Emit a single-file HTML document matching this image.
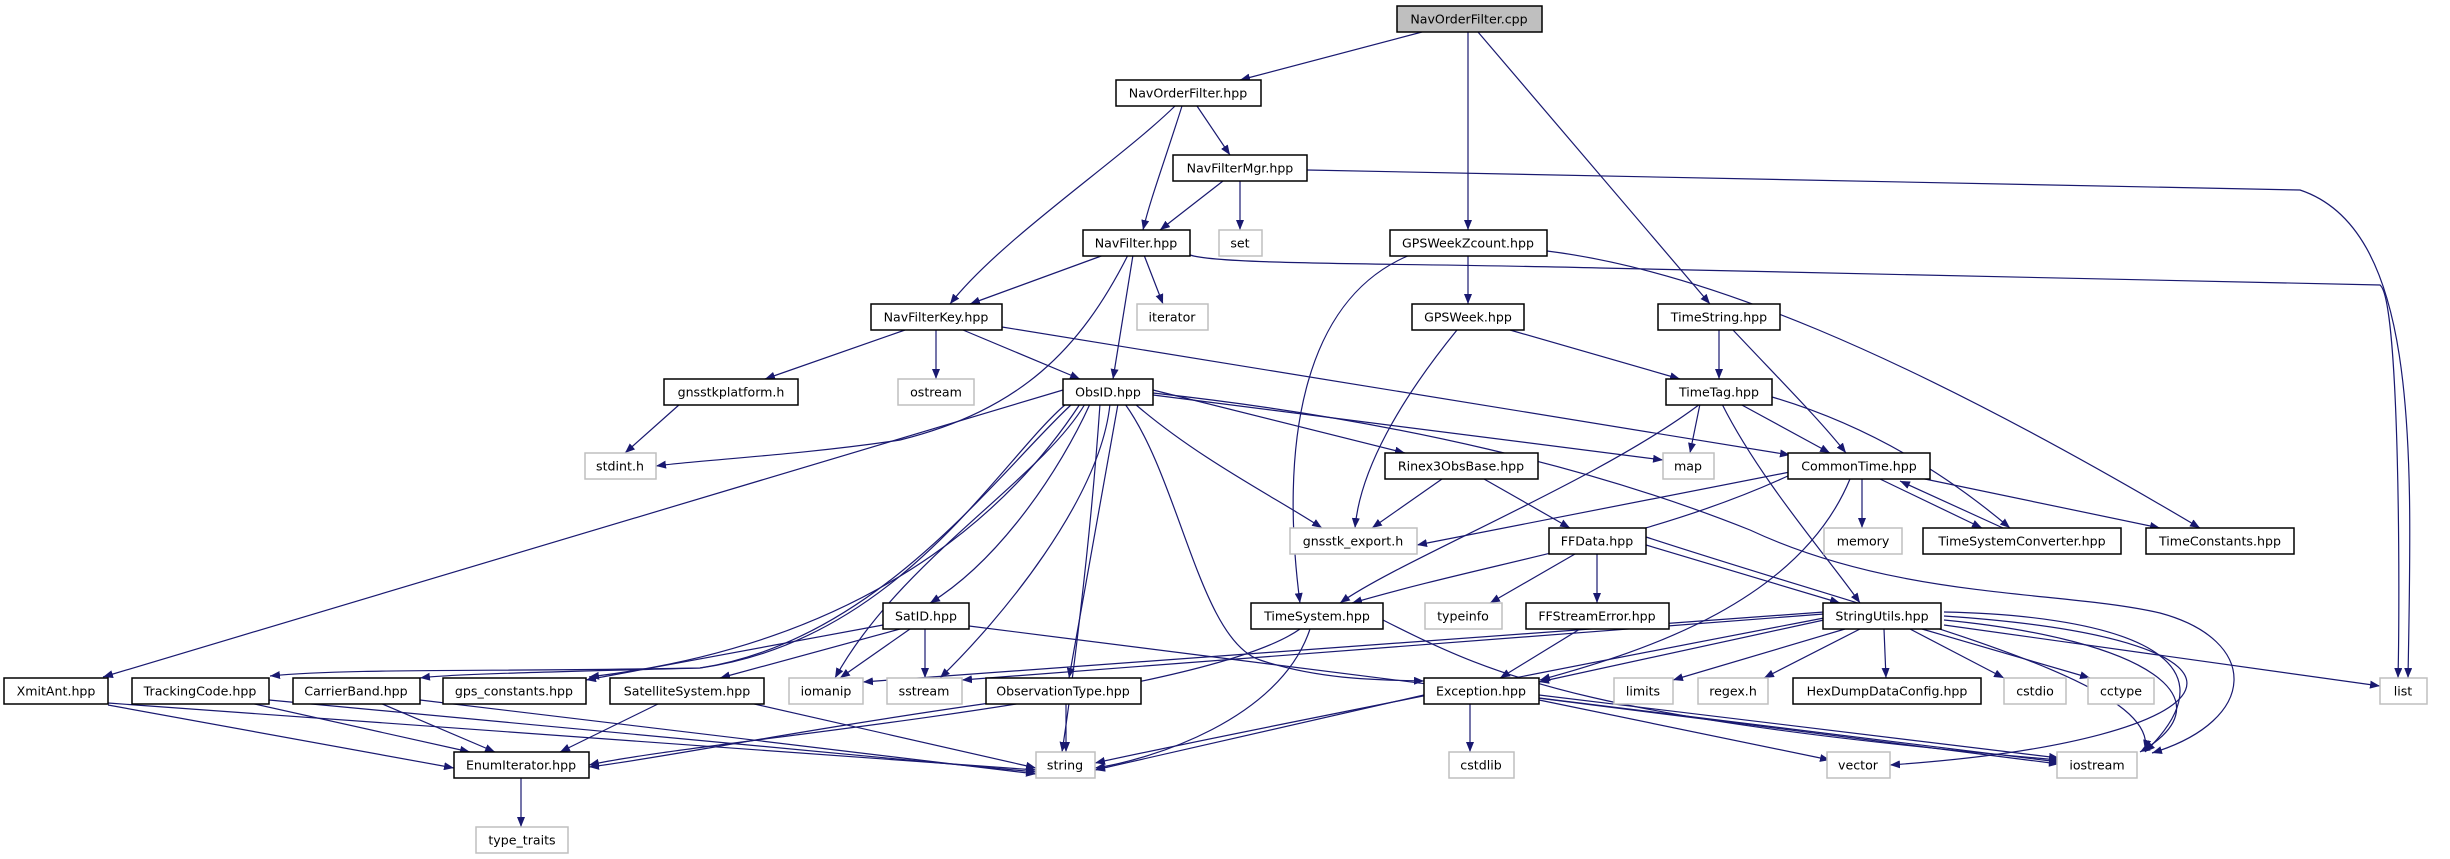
<!DOCTYPE html>
<html><head><meta charset="utf-8"><style>
html,body{margin:0;padding:0;background:#fff;}
svg{display:block;}
text{font-family:"DejaVu Sans","Liberation Sans",sans-serif;font-size:12.6px;fill:#000;text-anchor:middle;}
.b{fill:#fff;stroke:#000;stroke-width:1.5;}
.g{fill:#fff;stroke:#bfbfbf;stroke-width:1.5;}
.e{fill:none;stroke:#191970;stroke-width:1.2;marker-end:url(#a);}
</style></head><body>
<svg width="2450" height="859" viewBox="0 0 2450 859" xmlns="http://www.w3.org/2000/svg">
<defs><marker id="a" viewBox="0 0 10 8" refX="10" refY="4" markerWidth="10" markerHeight="8" markerUnits="userSpaceOnUse" orient="auto"><path d="M0,0 L10,4 L0,8 z" fill="#191970"/></marker></defs>
<g>
<path class="e" d="M1422,32 L1240,80"/>
<path class="e" d="M1468,32 L1468,230"/>
<path class="e" d="M1478,32 L1710,304"/>
<path class="e" d="M1175,106 C1120,160 1000,240 950,304"/>
<path class="e" d="M1182,106 C1165,160 1150,200 1143,230"/>
<path class="e" d="M1197,106 L1230,155"/>
<path class="e" d="M1223,181 L1160,230"/>
<path class="e" d="M1240,181 L1240,230"/>
<path class="e" d="M1307,170 L2300,190 C2420,230 2412,450 2408,678"/>
<path class="e" d="M1104,255 L970,304"/>
<path class="e" d="M1144,255 L1163,304"/>
<path class="e" d="M1133,255 L1113,379"/>
<path class="e" d="M1128,255 C1080,350 1020,410 900,440 C800,455 700,460 656,466"/>
<path class="e" d="M1190,255 C1220,265 1400,263 1600,268 L2380,285 C2400,300 2400,600 2398,678"/>
<path class="e" d="M905,330 L765,379"/>
<path class="e" d="M936,330 L936,379"/>
<path class="e" d="M963,330 L1080,379"/>
<path class="e" d="M1002,327 L1790,455"/>
<path class="e" d="M680,404 L625,453"/>
<path class="e" d="M1063,390 L103,677"/>
<path class="e" d="M1066,404 C1000,460 900,640 700,668 C500,672 350,668 270,676"/>
<path class="e" d="M1072,404 C1000,470 880,640 700,668 C550,672 450,674 420,678"/>
<path class="e" d="M1080,404 C1030,480 900,640 589,677"/>
<path class="e" d="M1090,404 C1060,470 1000,560 930,603"/>
<path class="e" d="M1085,404 C1040,480 900,560 835,678"/>
<path class="e" d="M1110,404 C1100,500 1000,620 940,678"/>
<path class="e" d="M1118,404 L1069,678"/>
<path class="e" d="M1100,404 C1090,550 1070,700 1062,752"/>
<path class="e" d="M1125,404 C1180,480 1200,640 1260,660 C1320,680 1380,680 1424,681"/>
<path class="e" d="M1153,390 L1405,453"/>
<path class="e" d="M1153,395 L1663,460"/>
<path class="e" d="M1135,404 C1200,460 1280,500 1322,528"/>
<path class="e" d="M1153,393 C1400,420 1600,470 1750,530 C1900,600 2060,590 2160,613 C2260,640 2260,720 2152,753"/>
<path class="e" d="M1700,404 L1690,453"/>
<path class="e" d="M1740,404 L1830,453"/>
<path class="e" d="M1700,404 C1600,480 1400,560 1340,603"/>
<path class="e" d="M1722,404 C1760,480 1830,560 1860,603"/>
<path class="e" d="M1772,397 C1850,420 1930,460 2010,528"/>
<path class="e" d="M1719,330 L1719,379"/>
<path class="e" d="M1733,330 C1780,380 1820,420 1846,453"/>
<path class="e" d="M1510,330 L1680,379"/>
<path class="e" d="M1457,330 C1400,400 1360,470 1355,528"/>
<path class="e" d="M1468,255 L1468,304"/>
<path class="e" d="M1410,255 C1300,300 1280,450 1300,603"/>
<path class="e" d="M1547,251 C1700,270 1900,350 2200,528"/>
<path class="e" d="M1790,472 L1417,545"/>
<path class="e" d="M1790,475 C1650,540 1500,560 1352,603"/>
<path class="e" d="M1862,479 L1862,528"/>
<path class="e" d="M1880,479 L1982,528"/>
<path class="e" d="M1920,478 L2160,528"/>
<path class="e" d="M1850,479 C1800,600 1650,650 1540,680"/>
<path class="e" d="M2003,528 L1900,481"/>
<path class="e" d="M1442,479 L1372,528"/>
<path class="e" d="M1484,479 L1570,528"/>
<path class="e" d="M1575,554 L1490,603"/>
<path class="e" d="M1597,554 L1597,603"/>
<path class="e" d="M1646,545 L1840,603"/>
<path class="e" d="M1646,537 C1900,620 2160,680 2145,750"/>
<path class="e" d="M1580,629 L1500,678"/>
<path class="e" d="M1300,629 C1200,700 700,740 589,765"/>
<path class="e" d="M1310,629 C1280,720 1150,760 1095,768"/>
<path class="e" d="M1383,620 C1500,680 1600,720 2059,760"/>
<path class="e" d="M1824,620 L1539,682"/>
<path class="e" d="M1845,629 L1673,680"/>
<path class="e" d="M1860,629 L1764,678"/>
<path class="e" d="M1884,629 L1886,678"/>
<path class="e" d="M1910,629 L2004,678"/>
<path class="e" d="M1922,629 L2090,678"/>
<path class="e" d="M1944,625 L2380,686"/>
<path class="e" d="M1824,612 L863,682"/>
<path class="e" d="M1824,614 L962,680"/>
<path class="e" d="M1824,618 C1500,680 1200,740 1095,763"/>
<path class="e" d="M1944,616 C2300,640 2250,740 1890,765"/>
<path class="e" d="M1944,612 C2100,615 2250,650 2145,752"/>
<path class="e" d="M1944,620 C2150,640 2230,700 2140,752"/>
<path class="e" d="M1470,703 L1470,752"/>
<path class="e" d="M1424,695 L1095,770"/>
<path class="e" d="M1539,700 L1830,760"/>
<path class="e" d="M1539,695 L2059,758"/>
<path class="e" d="M1539,698 L2059,762"/>
<path class="e" d="M900,629 L720,678"/>
<path class="e" d="M910,629 L840,678"/>
<path class="e" d="M925,629 L925,678"/>
<path class="e" d="M969,626 L2059,764"/>
<path class="e" d="M883,625 L586,680"/>
<path class="e" d="M660,703 L560,752"/>
<path class="e" d="M750,703 L1036,768"/>
<path class="e" d="M990,703 C800,730 650,760 589,767"/>
<path class="e" d="M1066,703 L1066,752"/>
<path class="e" d="M108,705 L454,768"/>
<path class="e" d="M108,703 L1036,770"/>
<path class="e" d="M250,703 L470,752"/>
<path class="e" d="M269,700 L1036,772"/>
<path class="e" d="M380,703 L495,752"/>
<path class="e" d="M420,700 L1036,774"/>
<path class="e" d="M521,778 L521,827"/>
</g>
<g>
<rect x="1397" y="6" width="145" height="26" fill="#bfbfbf" stroke="#000" stroke-width="1.5"/><text x="1469" y="23.5">NavOrderFilter.cpp</text>
<rect class="b" x="1116" y="80" width="145" height="26"/><text x="1188" y="97.5">NavOrderFilter.hpp</text>
<rect class="b" x="1173" y="155" width="134" height="26"/><text x="1240" y="172.5">NavFilterMgr.hpp</text>
<rect class="b" x="1083" y="230" width="107" height="26"/><text x="1136" y="247.5">NavFilter.hpp</text>
<rect class="g" x="1219" y="230" width="43" height="26"/><text x="1240" y="247.5">set</text>
<rect class="b" x="1390" y="230" width="157" height="26"/><text x="1468" y="247.5">GPSWeekZcount.hpp</text>
<rect class="b" x="871" y="304" width="131" height="26"/><text x="936" y="321.5">NavFilterKey.hpp</text>
<rect class="g" x="1137" y="304" width="71" height="26"/><text x="1172" y="321.5">iterator</text>
<rect class="b" x="1412" y="304" width="112" height="26"/><text x="1468" y="321.5">GPSWeek.hpp</text>
<rect class="b" x="1658" y="304" width="122" height="26"/><text x="1719" y="321.5">TimeString.hpp</text>
<rect class="b" x="664" y="379" width="134" height="26"/><text x="731" y="396.5">gnsstkplatform.h</text>
<rect class="g" x="898" y="379" width="76" height="26"/><text x="936" y="396.5">ostream</text>
<rect class="b" x="1063" y="379" width="90" height="26"/><text x="1108" y="396.5">ObsID.hpp</text>
<rect class="b" x="1666" y="379" width="106" height="26"/><text x="1719" y="396.5">TimeTag.hpp</text>
<rect class="g" x="585" y="453" width="71" height="26"/><text x="620" y="470.5">stdint.h</text>
<rect class="b" x="1385" y="453" width="153" height="26"/><text x="1461" y="470.5">Rinex3ObsBase.hpp</text>
<rect class="g" x="1663" y="453" width="51" height="26"/><text x="1688" y="470.5">map</text>
<rect class="b" x="1788" y="453" width="142" height="26"/><text x="1859" y="470.5">CommonTime.hpp</text>
<rect class="g" x="1290" y="528" width="127" height="26"/><text x="1353" y="545.5">gnsstk_export.h</text>
<rect class="b" x="1549" y="528" width="97" height="26"/><text x="1597" y="545.5">FFData.hpp</text>
<rect class="g" x="1824" y="528" width="78" height="26"/><text x="1863" y="545.5">memory</text>
<rect class="b" x="1923" y="528" width="198" height="26"/><text x="2022" y="545.5">TimeSystemConverter.hpp</text>
<rect class="b" x="2146" y="528" width="148" height="26"/><text x="2220" y="545.5">TimeConstants.hpp</text>
<rect class="b" x="883" y="603" width="86" height="26"/><text x="926" y="620.5">SatID.hpp</text>
<rect class="b" x="1251" y="603" width="132" height="26"/><text x="1317" y="620.5">TimeSystem.hpp</text>
<rect class="g" x="1425" y="603" width="77" height="26"/><text x="1463" y="620.5">typeinfo</text>
<rect class="b" x="1526" y="603" width="143" height="26"/><text x="1597" y="620.5">FFStreamError.hpp</text>
<rect class="b" x="1823" y="603" width="118" height="26"/><text x="1882" y="620.5">StringUtils.hpp</text>
<rect class="b" x="4" y="678" width="104" height="26"/><text x="56" y="695.5">XmitAnt.hpp</text>
<rect class="b" x="132" y="678" width="137" height="26"/><text x="200" y="695.5">TrackingCode.hpp</text>
<rect class="b" x="293" y="678" width="127" height="26"/><text x="356" y="695.5">CarrierBand.hpp</text>
<rect class="b" x="443" y="678" width="143" height="26"/><text x="514" y="695.5">gps_constants.hpp</text>
<rect class="b" x="610" y="678" width="154" height="26"/><text x="687" y="695.5">SatelliteSystem.hpp</text>
<rect class="g" x="789" y="678" width="74" height="26"/><text x="826" y="695.5">iomanip</text>
<rect class="g" x="887" y="678" width="75" height="26"/><text x="924" y="695.5">sstream</text>
<rect class="b" x="986" y="678" width="155" height="26"/><text x="1063" y="695.5">ObservationType.hpp</text>
<rect class="b" x="1424" y="678" width="115" height="26"/><text x="1481" y="695.5">Exception.hpp</text>
<rect class="g" x="1614" y="678" width="59" height="26"/><text x="1643" y="695.5">limits</text>
<rect class="g" x="1698" y="678" width="70" height="26"/><text x="1733" y="695.5">regex.h</text>
<rect class="b" x="1793" y="678" width="188" height="26"/><text x="1887" y="695.5">HexDumpDataConfig.hpp</text>
<rect class="g" x="2004" y="678" width="62" height="26"/><text x="2035" y="695.5">cstdio</text>
<rect class="g" x="2088" y="678" width="66" height="26"/><text x="2121" y="695.5">cctype</text>
<rect class="g" x="2380" y="678" width="47" height="26"/><text x="2403" y="695.5">list</text>
<rect class="b" x="454" y="752" width="135" height="26"/><text x="521" y="769.5">EnumIterator.hpp</text>
<rect class="g" x="1036" y="752" width="59" height="26"/><text x="1065" y="769.5">string</text>
<rect class="g" x="1449" y="752" width="65" height="26"/><text x="1481" y="769.5">cstdlib</text>
<rect class="g" x="1827" y="752" width="63" height="26"/><text x="1858" y="769.5">vector</text>
<rect class="g" x="2057" y="752" width="80" height="26"/><text x="2097" y="769.5">iostream</text>
<rect class="g" x="476" y="827" width="92" height="26"/><text x="522" y="844.5">type_traits</text>
</g>
</svg>
</body></html>
